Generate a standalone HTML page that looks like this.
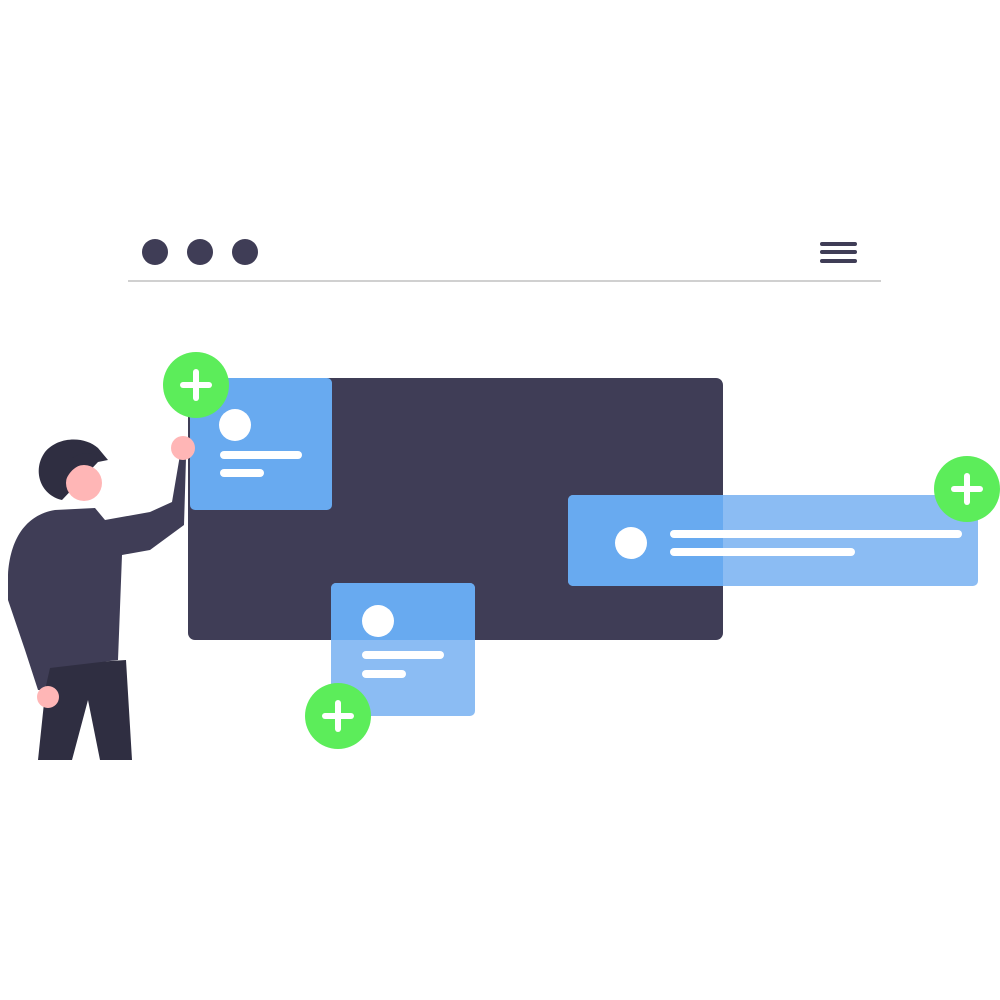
<!DOCTYPE html>
<html><head><style>body{margin:0;background:#fff}svg{display:block}</style></head><body>
<svg width="1000" height="1000" viewBox="0 0 1000 1000" xmlns="http://www.w3.org/2000/svg">
<defs><clipPath id="dk"><rect x="188" y="378" width="535" height="262"/></clipPath></defs>
<circle cx="155" cy="252" r="13" fill="#3f3d56"/>
<circle cx="200" cy="252" r="13" fill="#3f3d56"/>
<circle cx="245" cy="252" r="13" fill="#3f3d56"/>
<g stroke="#3f3d56" stroke-width="4" stroke-linecap="round"><line x1="822" y1="244" x2="855" y2="244"/><line x1="822" y1="252" x2="855" y2="252"/><line x1="822" y1="261" x2="855" y2="261"/></g>
<line x1="128" y1="281" x2="881" y2="281" stroke="#d0d0d0" stroke-width="2"/>
<rect x="188" y="378" width="535" height="262" rx="7" fill="#3f3d56"/>
<!-- card1 -->
<rect x="190" y="378" width="142" height="132" rx="5" fill="#68aaf0"/>
<circle cx="235" cy="425" r="16" fill="#fff"/>
<rect x="220" y="451" width="82" height="8" rx="4" fill="#fff"/>
<rect x="220" y="469" width="44" height="8" rx="4" fill="#fff"/>
<!-- card2 -->
<rect x="331" y="583" width="144" height="133" rx="5" fill="#8bbcf3"/>
<rect x="331" y="583" width="144" height="133" rx="5" fill="#68aaf0" clip-path="url(#dk)"/>
<circle cx="378" cy="621" r="16" fill="#fff"/>
<rect x="362" y="651" width="82" height="8" rx="4" fill="#fff"/>
<rect x="362" y="670" width="44" height="8" rx="4" fill="#fff"/>
<!-- card3 -->
<rect x="568" y="495" width="410" height="91" rx="5" fill="#8bbcf3"/>
<rect x="568" y="495" width="410" height="91" rx="5" fill="#68aaf0" clip-path="url(#dk)"/>
<circle cx="631" cy="543" r="16" fill="#fff"/>
<rect x="670" y="530" width="292" height="8" rx="4" fill="#fff"/>
<rect x="670" y="548" width="185" height="8" rx="4" fill="#fff"/>
<!-- plus circles -->
<g fill="#5ced5a"><circle cx="196" cy="385" r="33"/><circle cx="967" cy="489" r="33"/><circle cx="338" cy="716" r="33"/></g>
<g stroke="#fff" stroke-width="6" stroke-linecap="round">
<line x1="183" y1="385" x2="209" y2="385"/><line x1="196" y1="372" x2="196" y2="398"/>
<line x1="954" y1="489" x2="980" y2="489"/><line x1="967" y1="476" x2="967" y2="502"/>
<line x1="325" y1="716" x2="351" y2="716"/><line x1="338" y1="703" x2="338" y2="729"/>
</g>
<!-- person -->
<path d="M38 760 L48 665 L126 660 L132 760 L100 760 L88 700 L72 760 Z" fill="#2f2e41"/>
<path d="M8 575 C10 540 25 515 55 510 L95 508 L105 520 L150 512 L172 502 L180 455 L186 458 L184 525 L150 550 L122 555 L118 660 L50 668 L45 690 L38 690 L25 650 L8 600 Z" fill="#3f3d56"/>
<circle cx="183" cy="448" r="12" fill="#ffb6b6"/>
<circle cx="48" cy="697" r="11" fill="#ffb6b6"/>
<path d="M62 500 C40 495 32 470 45 452 C58 436 85 436 98 448 L108 460 L98 462 Z" fill="#2f2e41"/>
<circle cx="84" cy="483" r="18" fill="#ffb6b6"/>
<path d="M66 480 C70 470 78 463 95 462 L97 455 C80 450 68 458 63 470 Z" fill="#2f2e41"/>
</svg>
</body></html>
